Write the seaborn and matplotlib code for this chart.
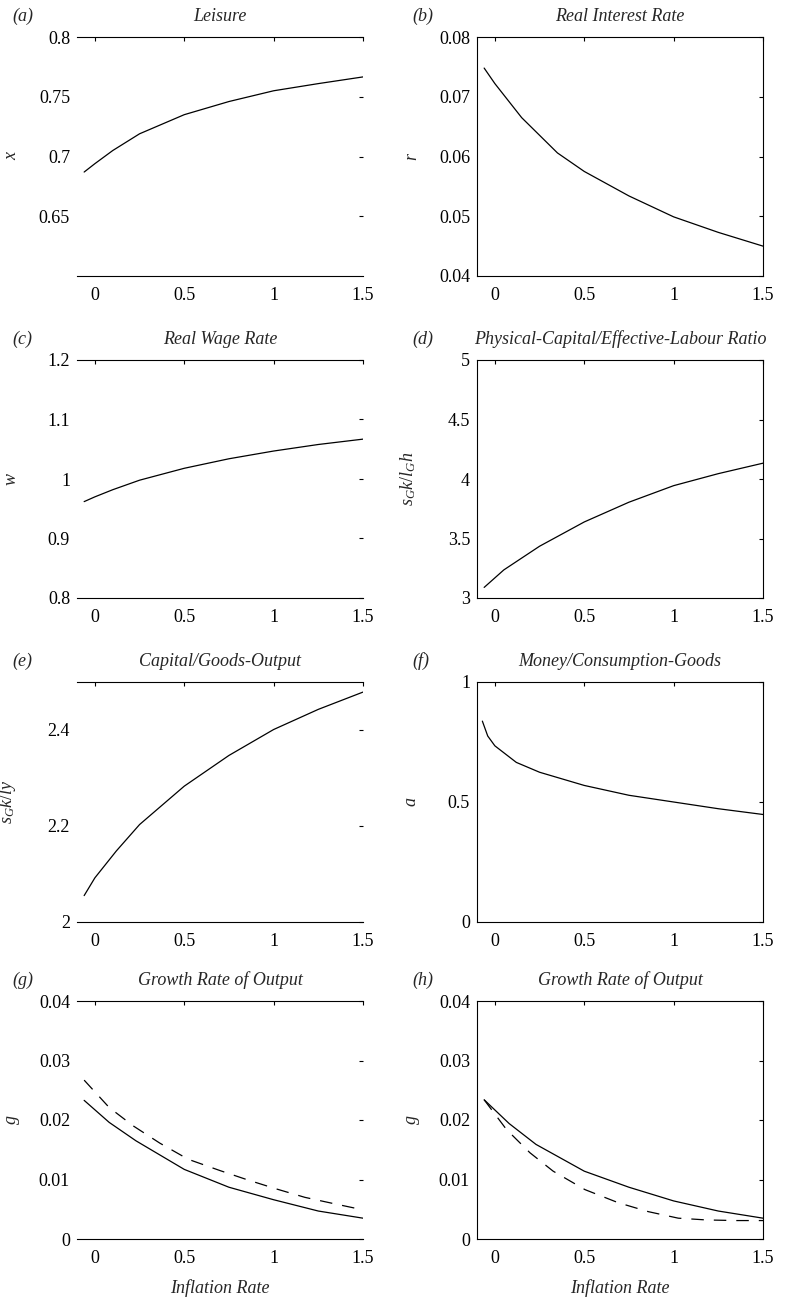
import numpy as np
import pandas as pd
import seaborn as sns
import matplotlib
matplotlib.use("Agg")
import matplotlib.pyplot as plt

# ---------------- data ----------------
x_a = [-0.06, 0.0, 0.1, 0.25, 0.5, 0.75, 1.0, 1.25, 1.5]
leisure = [0.687, 0.694, 0.705, 0.719, 0.735, 0.746, 0.755, 0.761, 0.7666]

x_b = [-0.06, 0.0, 0.15, 0.35, 0.5, 0.75, 1.0, 1.25, 1.5]
interest = [0.0748, 0.0722, 0.0665, 0.0606, 0.0575, 0.0534, 0.0499, 0.0473, 0.0450]

x_c = [-0.06, 0.0, 0.1, 0.25, 0.5, 0.75, 1.0, 1.25, 1.5]
wage = [0.962, 0.970, 0.982, 0.998, 1.018, 1.034, 1.047, 1.058, 1.067]

x_d = [-0.06, 0.05, 0.25, 0.5, 0.75, 1.0, 1.25, 1.5]
kratio = [3.089, 3.236, 3.435, 3.639, 3.805, 3.944, 4.045, 4.133]

x_e = [-0.06, 0.0, 0.12, 0.25, 0.5, 0.75, 1.0, 1.25, 1.5]
kyratio = [2.055, 2.092, 2.148, 2.203, 2.283, 2.347, 2.401, 2.443, 2.479]

x_f = [-0.07, -0.04, 0.0, 0.12, 0.25, 0.5, 0.75, 1.0, 1.25, 1.5]
money = [0.837, 0.775, 0.734, 0.665, 0.624, 0.569, 0.528, 0.500, 0.472, 0.448]

x_g_solid = [-0.06, 0.08, 0.23, 0.5, 0.75, 1.0, 1.25, 1.5]
g_solid = [0.0233, 0.0196, 0.0165, 0.0117, 0.0087, 0.0066, 0.0047, 0.0035]
x_g_dash = [-0.06, 0.08, 0.215, 0.364, 0.522, 0.7, 0.858, 1.017, 1.175, 1.343, 1.5]
g_dash = [0.0267, 0.0221, 0.0190, 0.0161, 0.0134, 0.0115, 0.0099, 0.0084, 0.0070, 0.0059, 0.0049]

x_h_solid = [-0.06, 0.08, 0.23, 0.5, 0.75, 1.0, 1.25, 1.5]
h_solid = [0.0234, 0.0194, 0.0159, 0.0114, 0.0087, 0.0064, 0.0047, 0.0035]
x_h_dash = [-0.06, 0.065, 0.196, 0.326, 0.504, 0.69, 0.858, 1.026, 1.185, 1.35, 1.5]
h_dash = [0.0234, 0.0184, 0.0145, 0.0114, 0.0083, 0.0061, 0.0046, 0.0035, 0.0032, 0.0031, 0.0031]

x_ticks = [0, 0.5, 1, 1.5]
x_ticklabels = ["0", "0.5", "1", "1.5"]

panels = [
    dict(tag="(a)", title="Leisure", ylabel="x", lines=[(x_a, leisure, "-")],
         ylim=(0.6, 0.8), yticks=[0.65, 0.7, 0.75, 0.8], ylabels=["0.65", "0.7", "0.75", "0.8"]),
    dict(tag="(b)", title="Real Interest Rate", ylabel="r", lines=[(x_b, interest, "-")],
         ylim=(0.04, 0.08), yticks=[0.04, 0.05, 0.06, 0.07, 0.08],
         ylabels=["0.04", "0.05", "0.06", "0.07", "0.08"]),
    dict(tag="(c)", title="Real Wage Rate", ylabel="w", lines=[(x_c, wage, "-")],
         ylim=(0.8, 1.2), yticks=[0.8, 0.9, 1.0, 1.1, 1.2], ylabels=["0.8", "0.9", "1", "1.1", "1.2"]),
    dict(tag="(d)", title="Physical-Capital/Effective-Labour Ratio", ylabel=r"$s_G k/l_G h$",
         lines=[(x_d, kratio, "-")],
         ylim=(3, 5), yticks=[3, 3.5, 4, 4.5, 5], ylabels=["3", "3.5", "4", "4.5", "5"]),
    dict(tag="(e)", title="Capital/Goods-Output", ylabel=r"$s_G k/l y$", lines=[(x_e, kyratio, "-")],
         ylim=(2, 2.5), yticks=[2, 2.2, 2.4], ylabels=["2", "2.2", "2.4"]),
    dict(tag="(f)", title="Money/Consumption-Goods", ylabel="a", lines=[(x_f, money, "-")],
         ylim=(0, 1), yticks=[0, 0.5, 1], ylabels=["0", "0.5", "1"]),
    dict(tag="(g)", title="Growth Rate of Output", ylabel="g",
         lines=[(x_g_solid, g_solid, "-"), (x_g_dash, g_dash, (0, (10, 8)))],
         ylim=(0, 0.04), yticks=[0, 0.01, 0.02, 0.03, 0.04],
         ylabels=["0", "0.01", "0.02", "0.03", "0.04"]),
    dict(tag="(h)", title="Growth Rate of Output", ylabel="g",
         lines=[(x_h_solid, h_solid, "-"), (x_h_dash, h_dash, (0, (10, 8)))],
         ylim=(0, 0.04), yticks=[0, 0.01, 0.02, 0.03, 0.04],
         ylabels=["0", "0.01", "0.02", "0.03", "0.04"]),
]

# ---------------- style ----------------
sns.set_theme(style="white")
plt.rcParams["font.family"] = ["Liberation Serif", "DejaVu Serif"]
plt.rcParams["mathtext.fontset"] = "custom"
plt.rcParams["mathtext.rm"] = "Liberation Serif"
plt.rcParams["mathtext.it"] = "Liberation Serif:italic"
plt.rcParams["axes.linewidth"] = 0.8

W, H = 792, 1301
fig = plt.figure(figsize=(W / 100, H / 100), dpi=100)
fig.patch.set_facecolor("white")

col_left = [77, 477]
ax_w = 286
rows = [(37, 276), (360, 598), (682, 922), (1001, 1239)]

for i, p in enumerate(panels):
    r, c = divmod(i, 2)
    top, bot = rows[r]
    ax = fig.add_axes([col_left[c] / W, 1 - bot / H, ax_w / W, (bot - top) / H])
    ax.set_facecolor("white")
    for xs, ys, ls in p["lines"]:
        df = pd.DataFrame({"x": xs, "y": ys})
        sns.lineplot(data=df, x="x", y="y", ax=ax, color="black", lw=0.9,
                     linestyle=ls, sort=False, estimator=None)
    ax.set_xlim(-0.1, 1.5)
    ax.set_ylim(*p["ylim"])
    ax.set_xticks(x_ticks)
    ax.set_xticklabels(x_ticklabels)
    ax.set_yticks(p["yticks"])
    ax.set_yticklabels(p["ylabels"])
    ax.tick_params(axis="both", direction="in", length=3, width=0.8, colors="black",
                   top=True, right=True, labelsize=13)
    ax.tick_params(axis="x", pad=8)
    ax.tick_params(axis="y", pad=5)
    for s in ax.spines.values():
        s.set_color("black")
        s.set_linewidth(0.8)
    if c == 0:
        ax.spines["left"].set_visible(False)
        ax.spines["right"].set_visible(False)
    ax.set_xlabel("")
    ax.set_ylabel(p["ylabel"], fontsize=13, style="italic", rotation=90)
    lx = -0.205 if p["ylabel"].startswith("$") else -0.2
    ax.yaxis.set_label_coords(lx, 0.5)
    h_px = bot - top
    ax.text(0.5, 1 + 16 / h_px, p["title"], transform=ax.transAxes, ha="center",
            va="baseline", fontsize=13, style="italic")
    ax.text(-0.225, 1 + 16 / h_px, p["tag"], transform=ax.transAxes, ha="left",
            va="baseline", fontsize=13, style="italic")
    if r == 3:
        ax.text(0.5, -49 / h_px, "Inflation Rate", transform=ax.transAxes, ha="center",
                va="center", fontsize=13, style="italic")

fig.savefig("out.png", dpi=100, facecolor="white")
